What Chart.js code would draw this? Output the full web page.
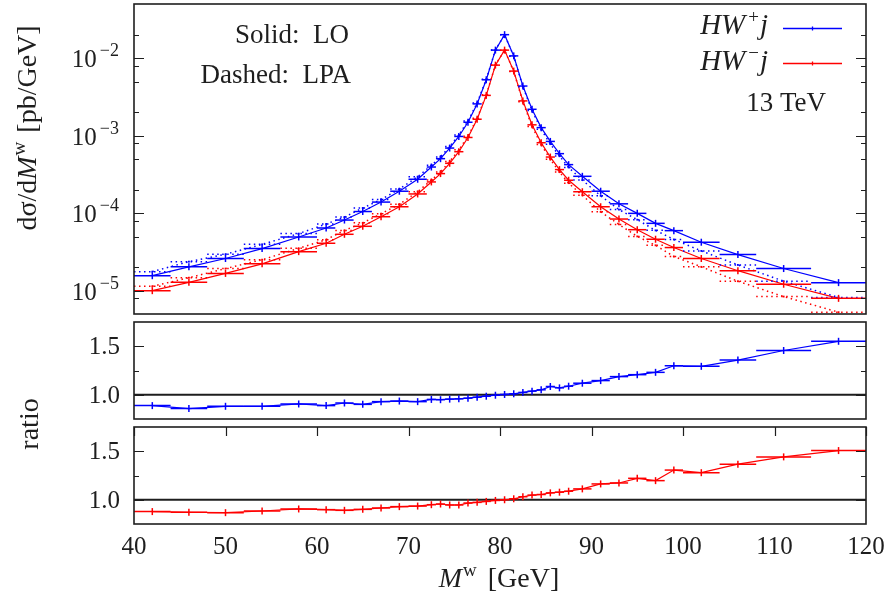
<!DOCTYPE html>
<html>
<head>
<meta charset="utf-8">
<script src="https://cdn.jsdelivr.net/npm/chart.js@4.4.1/dist/chart.umd.min.js"></script>
<style>
html, body { margin: 0; padding: 0; background: #fff; }
#wrap { position: relative; width: 896px; height: 603px; }
#wrap canvas { position: absolute; left: 0; top: 0; }
</style>
</head>
<body>
<div id="wrap">
  <canvas id="spectrum" width="896" height="603"></canvas>
  <canvas id="ratioPlus" width="896" height="603"></canvas>
  <canvas id="ratioMinus" width="896" height="603"></canvas>
</div>
<script>
// bins in M^w [GeV]
var binLow  = [40, 44, 48, 52, 56, 60, 62, 64, 66, 68, 70, 72, 73, 74, 75, 76, 77, 78, 79, 80, 81, 82, 83, 84, 85, 86, 87, 88, 90, 92, 94, 96, 98, 100, 104, 108, 114];
var binHigh = [44, 48, 52, 56, 60, 62, 64, 66, 68, 70, 72, 73, 74, 75, 76, 77, 78, 79, 80, 81, 82, 83, 84, 85, 86, 87, 88, 90, 92, 94, 96, 98, 100, 104, 108, 114, 120];
var binMid  = [42, 46, 50, 54, 58, 61, 63, 65, 67, 69, 71, 72.5, 73.5, 74.5, 75.5, 76.5, 77.5, 78.5, 79.5, 80.5, 81.5, 82.5, 83.5, 84.5, 85.5, 86.5, 87.5, 89, 91, 93, 95, 97, 99, 102, 106, 111, 117];

// dsigma/dM^w [pb/GeV]
var loPlus   = [1.56e-5, 2.03e-5, 2.60e-5, 3.49e-5, 4.93e-5, 6.44e-5, 8.15e-5, 1.05e-4, 1.39e-4, 1.92e-4, 2.74e-4, 3.94e-4, 5.05e-4, 6.92e-4, 9.77e-4, 1.49e-3, 2.57e-3, 5.26e-3, 1.27e-2, 2.01e-2, 1.07e-2, 4.37e-3, 2.19e-3, 1.27e-3, 8.43e-4, 5.86e-4, 4.23e-4, 2.99e-4, 1.92e-4, 1.32e-4, 9.94e-5, 7.39e-5, 5.95e-5, 4.22e-5, 2.92e-5, 1.93e-5, 1.27e-5];
var lpaPlus  = [1.76e-5, 2.37e-5, 2.95e-5, 3.96e-5, 5.45e-5, 7.25e-5, 8.91e-5, 1.165e-4, 1.50e-4, 2.05e-4, 2.95e-4, 4.14e-4, 5.32e-4, 7.25e-4, 1.02e-3, 1.544e-3, 2.64e-3, 5.34e-3, 1.276e-2, 2.00e-2, 1.06e-2, 4.27e-3, 2.11e-3, 1.21e-3, 7.77e-4, 5.47e-4, 3.89e-4, 2.67e-4, 1.675e-4, 1.112e-4, 8.24e-5, 6.0e-5, 4.58e-5, 3.26e-5, 2.15e-5, 1.326e-5, 8.19e-6];
var loMinus  = [1.00e-5, 1.28e-5, 1.67e-5, 2.22e-5, 3.19e-5, 4.09e-5, 5.34e-5, 6.77e-5, 9.0e-5, 1.21e-4, 1.77e-4, 2.53e-4, 3.24e-4, 4.40e-4, 6.21e-4, 9.48e-4, 1.63e-3, 3.31e-3, 8.13e-3, 1.27e-2, 6.81e-3, 2.81e-3, 1.38e-3, 8.11e-4, 5.30e-4, 3.65e-4, 2.66e-4, 1.89e-4, 1.21e-4, 8.4e-5, 6.12e-5, 4.61e-5, 3.60e-5, 2.60e-5, 1.81e-5, 1.21e-5, 7.96e-6];
var lpaMinus = [1.139e-5, 1.47e-5, 1.926e-5, 2.51e-5, 3.52e-5, 4.55e-5, 5.99e-5, 7.51e-5, 9.84e-5, 1.302e-4, 1.893e-4, 2.67e-4, 3.39e-4, 4.65e-4, 6.56e-4, 9.81e-4, 1.675e-3, 3.37e-3, 8.19e-3, 1.27e-2, 6.74e-3, 2.73e-3, 1.317e-3, 7.69e-4, 4.95e-4, 3.39e-4, 2.44e-4, 1.70e-4, 1.04e-4, 7.16e-5, 5.01e-5, 3.85e-5, 2.76e-5, 2.03e-5, 1.324e-5, 8.39e-6, 5.28e-6];

// ratios
var ratioPlus  = [0.888, 0.857, 0.881, 0.881, 0.905, 0.888, 0.915, 0.901, 0.929, 0.935, 0.929, 0.952, 0.949, 0.955, 0.958, 0.965, 0.975, 0.985, 0.995, 1.003, 1.010, 1.024, 1.037, 1.051, 1.085, 1.071, 1.088, 1.119, 1.146, 1.187, 1.207, 1.231, 1.299, 1.293, 1.357, 1.456, 1.551];
var ratioMinus = [0.878, 0.871, 0.867, 0.884, 0.905, 0.898, 0.891, 0.901, 0.915, 0.929, 0.935, 0.949, 0.956, 0.946, 0.946, 0.966, 0.973, 0.983, 0.993, 1.000, 1.010, 1.031, 1.048, 1.054, 1.071, 1.078, 1.088, 1.112, 1.163, 1.173, 1.221, 1.197, 1.306, 1.279, 1.367, 1.442, 1.507];

// ticks
var xTicks = [40, 50, 60, 70, 80, 90, 100, 110, 120];
var logMajor = [1e-5, 1e-4, 1e-3, 1e-2];
var logExp = ['5', '4', '3', '2'];
var logMinor = [8e-6, 2e-5, 5e-5, 8e-5, 2e-4, 5e-4, 8e-4, 2e-3, 5e-3, 8e-3, 2e-2];
var ratioTicks = [1.0, 1.5];
var ratioMinor = [1.25];

var ink = '#1e1e1e';
var blue = '#0000ff';
var red = '#ff0000';
var serif = '"Liberation Serif", "Times New Roman", serif';
function F(size, style) { return (style ? style + ' ' : '') + size + 'px ' + serif; }

function pts(vals) {
  return binMid.map(function (x, i) { return { x: x, y: vals[i] }; });
}

// text made of runs (for italics and superscripts)
function drawRuns(ctx, runs, x, y, align) {
  var w = 0;
  runs.forEach(function (r) { ctx.font = r.font; r.w = ctx.measureText(r.text).width; w += r.w + (r.gap || 0); });
  var cx = align === 'right' ? x - w : (align === 'center' ? x - w / 2 : x);
  ctx.textAlign = 'left';
  ctx.textBaseline = 'alphabetic';
  runs.forEach(function (r) {
    ctx.font = r.font;
    ctx.fillText(r.text, cx, y + (r.dy || 0));
    cx += r.w + (r.gap || 0);
  });
}

// bin bars, error ticks, frame and inward ticks
var axisFrame = {
  id: 'axisFrame',
  beforeDatasetsDraw: function (chart, args, opts) {
    if (opts.refLine == null) return;
    var a = chart.chartArea, ctx = chart.ctx;
    var y = chart.scales.y.getPixelForValue(opts.refLine);
    ctx.save();
    ctx.strokeStyle = ink; ctx.lineWidth = 1.8;
    ctx.beginPath(); ctx.moveTo(a.left, y); ctx.lineTo(a.right, y); ctx.stroke();
    ctx.restore();
  },
  afterDatasetsDraw: function (chart, args, opts) {
    var ctx = chart.ctx, a = chart.chartArea, sx = chart.scales.x, sy = chart.scales.y;
    ctx.save();
    ctx.beginPath(); ctx.rect(a.left, a.top, a.right - a.left, a.bottom - a.top); ctx.clip();
    chart.data.datasets.forEach(function (ds, di) {
      var meta = chart.getDatasetMeta(di);
      ctx.strokeStyle = ds.barColor;
      ctx.lineWidth = 1.5;
      meta.data.forEach(function (pt, i) {
        var x0 = sx.getPixelForValue(binLow[i]), x1 = sx.getPixelForValue(binHigh[i]);
        ctx.setLineDash(ds.borderDash || []);
        ctx.beginPath(); ctx.moveTo(x0, pt.y); ctx.lineTo(x1, pt.y); ctx.stroke();
        if (ds.errTick) {
          ctx.setLineDash([]);
          ctx.beginPath(); ctx.moveTo(pt.x, pt.y - 3.5); ctx.lineTo(pt.x, pt.y + 3.5); ctx.stroke();
        }
      });
    });
    ctx.restore();

    ctx.save();
    ctx.strokeStyle = ink;
    ctx.lineWidth = 1.2;
    ctx.beginPath();
    (opts.yMajor || []).forEach(function (v) {
      var y = Math.round(sy.getPixelForValue(v)) + 0.5;
      ctx.moveTo(a.left, y); ctx.lineTo(a.left + 10, y);
      ctx.moveTo(a.right, y); ctx.lineTo(a.right - 10, y);
    });
    (opts.yMinor || []).forEach(function (v) {
      var y = Math.round(sy.getPixelForValue(v)) + 0.5;
      ctx.moveTo(a.left, y); ctx.lineTo(a.left + 5, y);
      ctx.moveTo(a.right, y); ctx.lineTo(a.right - 5, y);
    });
    (opts.xTop || []).forEach(function (v) {
      var x = Math.round(sx.getPixelForValue(v)) + 0.5;
      ctx.moveTo(x, a.top); ctx.lineTo(x, a.top + 9);
    });
    ctx.stroke();
    ctx.lineWidth = 1.6;
    ctx.strokeRect(a.left, a.top, a.right - a.left, a.bottom - a.top);
    ctx.restore();
  }
};

function makeChart(id, pad, yScale, datasets, frameOpts, textPlugin) {
  return new Chart(document.getElementById(id), {
    type: 'line',
    data: { datasets: datasets },
    options: {
      responsive: false,
      animation: false,
      events: [],
      layout: { padding: pad },
      scales: {
        x: { type: 'linear', min: 40, max: 120, display: false },
        y: Object.assign({ display: false }, yScale)
      },
      elements: { line: { tension: 0 }, point: { radius: 0 } },
      plugins: { legend: { display: false }, tooltip: { enabled: false }, axisFrame: frameOpts }
    },
    plugins: [axisFrame, textPlugin]
  });
}

function loSet(vals, color) {
  return { data: pts(vals), borderColor: color, borderWidth: 1.2, pointRadius: 0, barColor: color, errTick: true };
}
function lpaSet(vals, color) {
  return { data: pts(vals), borderColor: color, borderWidth: 1.5, borderDash: [1.5, 3.5],
           pointRadius: 1.3, pointStyle: 'rect', pointBackgroundColor: color, pointBorderWidth: 0,
           barColor: color, errTick: false };
}

// top panel
makeChart('spectrum', { left: 134, right: 30, top: 2, bottom: 289 },
  { type: 'logarithmic', min: 5e-6, max: 5e-2 },
  [lpaSet(lpaPlus, blue), lpaSet(lpaMinus, red), loSet(loPlus, blue), loSet(loMinus, red)],
  { yMajor: logMajor, yMinor: logMinor },
  {
    id: 'spectrumText',
    afterDraw: function (chart) {
      var ctx = chart.ctx, sy = chart.scales.y;
      ctx.save();
      ctx.fillStyle = ink;
      logMajor.forEach(function (v, i) {
        var y = sy.getPixelForValue(v);
        drawRuns(ctx, [
          { text: '10', font: F(25), gap: 3 },
          { text: '\u2212' + logExp[i], font: F(18), dy: -11 }
        ], 119, y + 9, 'right');
      });
      drawRuns(ctx, [{ text: 'Solid:  LO', font: F(27) }], 349, 43, 'right');
      drawRuns(ctx, [{ text: 'Dashed:  LPA', font: F(27) }], 351, 83, 'right');
      drawRuns(ctx, [{ text: '13 TeV', font: F(27) }], 826, 111, 'right');
      drawRuns(ctx, [
        { text: 'HW', font: F(29, 'italic'), gap: 3 },
        { text: '+', font: F(19), dy: -11, gap: 1 },
        { text: 'j', font: F(29, 'italic') }
      ], 768, 34, 'right');
      drawRuns(ctx, [
        { text: 'HW', font: F(29, 'italic'), gap: 3 },
        { text: '\u2212', font: F(19), dy: -11, gap: 1 },
        { text: 'j', font: F(29, 'italic') }
      ], 768, 70, 'right');
      [[blue, 28.5], [red, 63.5]].forEach(function (s) {
        ctx.strokeStyle = s[0]; ctx.lineWidth = 1.3;
        ctx.beginPath(); ctx.moveTo(783, s[1]); ctx.lineTo(842, s[1]);
        ctx.moveTo(812.5, s[1] - 2); ctx.lineTo(812.5, s[1] + 2); ctx.stroke();
      });
      // y title
      ctx.translate(36, 128);
      ctx.rotate(-Math.PI / 2);
      drawRuns(ctx, [
        { text: 'd\u03C3/d', font: F(28) },
        { text: 'M', font: F(28, 'italic'), gap: 1 },
        { text: 'w', font: F(19), dy: -11, gap: 2 },
        { text: ' [pb/GeV]', font: F(28) }
      ], 0, 0, 'center');
      ctx.restore();
    }
  });

function ratioLabels(chart) {
  var ctx = chart.ctx, sy = chart.scales.y;
  ctx.fillStyle = ink;
  ratioTicks.forEach(function (v) {
    drawRuns(ctx, [{ text: v.toFixed(1), font: F(25) }], 120, sy.getPixelForValue(v) + 8, 'right');
  });
}

function ratioSet(vals, color) {
  return { data: pts(vals), borderColor: color, borderWidth: 1.2, pointRadius: 0, barColor: color, errTick: true };
}

// middle panel
makeChart('ratioPlus', { left: 134, right: 30, top: 322, bottom: 184 },
  { type: 'linear', min: 0.75, max: 1.75 },
  [ratioSet(ratioPlus, blue)],
  { yMajor: ratioTicks, yMinor: ratioMinor, refLine: 1.0 },
  {
    id: 'ratioPlusText',
    afterDraw: function (chart) {
      var ctx = chart.ctx;
      ctx.save();
      ratioLabels(chart);
      ctx.translate(38, 424);
      ctx.rotate(-Math.PI / 2);
      drawRuns(ctx, [{ text: 'ratio', font: F(28) }], 0, 0, 'center');
      ctx.restore();
    }
  });

// bottom panel
makeChart('ratioMinus', { left: 134, right: 30, top: 427, bottom: 79 },
  { type: 'linear', min: 0.75, max: 1.75 },
  [ratioSet(ratioMinus, red)],
  { yMajor: ratioTicks, yMinor: ratioMinor, refLine: 1.0, xTop: xTicks },
  {
    id: 'ratioMinusText',
    afterDraw: function (chart) {
      var ctx = chart.ctx, sx = chart.scales.x;
      ctx.save();
      ratioLabels(chart);
      xTicks.forEach(function (v) {
        drawRuns(ctx, [{ text: String(v), font: F(25) }], sx.getPixelForValue(v), 554, 'center');
      });
      drawRuns(ctx, [
        { text: 'M', font: F(28, 'italic'), gap: 1 },
        { text: 'w', font: F(19), dy: -11, gap: 4 },
        { text: ' [GeV]', font: F(28) }
      ], 499, 587, 'center');
      ctx.restore();
    }
  });
</script>
</body>
</html>
